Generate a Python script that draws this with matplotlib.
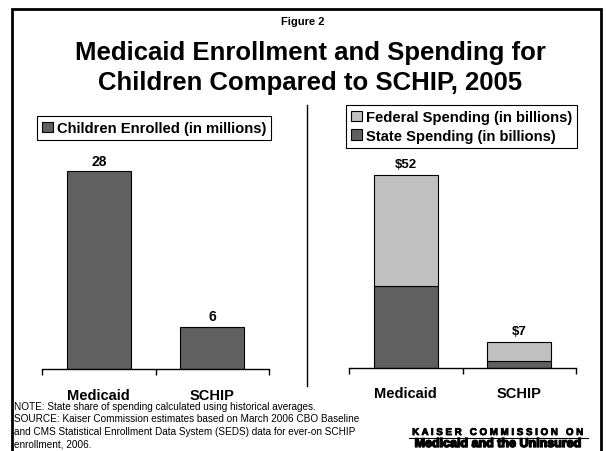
import matplotlib
matplotlib.use('Agg')
import matplotlib.pyplot as plt
from matplotlib.patches import Rectangle, Patch
from matplotlib.lines import Line2D
import matplotlib.patheffects as pe

plt.rcParams['font.family'] = ['Liberation Sans', 'DejaVu Sans']

# enrollment (millions) and spending (billions) for 2005
programs = ['Medicaid', 'SCHIP']
children_enrolled = [28, 6]
enrolled_labels = ['28', '6']
federal_spending = [30, 5]
state_spending = [22, 2]
spending_labels = ['$52', '$7']

DARK = '#606060'
LIGHT = '#c0c0c0'

W, H = 606, 452
fig = plt.figure(figsize=(W / 100, H / 100), dpi=100)


def px_axes(x0, x1, y_base, height):
    # axes placed by pixel position (y measured from top)
    return fig.add_axes([x0 / W, (H - y_base) / H, (x1 - x0) / W, height / H])


def style_axis(ax, pad):
    for s in ['top', 'right', 'left']:
        ax.spines[s].set_visible(False)
    ax.spines['bottom'].set_linewidth(1.0)
    ax.set_xlim(0, len(programs))
    ax.set_yticks([])
    ax.set_xticks(range(len(programs) + 1))
    ax.set_xticklabels([])
    ax.tick_params(axis='x', which='major', direction='out', length=4, width=1)
    ax.set_xticks([i + 0.5 for i in range(len(programs))], minor=True)
    ax.set_xticklabels(programs, minor=True, fontsize=10.5, fontweight='bold')
    ax.tick_params(axis='x', which='minor', length=0, pad=pad)


pos = [i + 0.5 for i in range(len(programs))]
leg_kw = dict(loc='upper left', bbox_transform=fig.transFigure, fancybox=False,
              edgecolor='black', framealpha=1, borderpad=0.35, borderaxespad=0,
              handlelength=0.75, handleheight=0.75, handletextpad=0.25,
              labelspacing=0.3, prop={'size': 10.6, 'weight': 'bold'})

# left panel: children enrolled
ax1 = px_axes(42, 269, 370, 30 * 7.07)
ax1.set_ylim(0, 30)
ax1.bar(pos, children_enrolled, width=0.56, color=DARK,
        edgecolor='black', linewidth=0.8)
for x, v, lab in zip(pos, children_enrolled, enrolled_labels):
    ax1.annotate(lab, (x, v), xytext=(0, 7.5), textcoords='offset points',
                 ha='center', va='center', fontsize=10, fontweight='bold')
style_axis(ax1, 14)
ax1.legend([Patch(facecolor=DARK, edgecolor='black', linewidth=0.8)],
           ['Children Enrolled (in millions)'],
           bbox_to_anchor=(37 / W, 1 - 117 / H), **leg_kw
           ).get_frame().set_linewidth(0.8)

# right panel: state and federal spending
ax2 = px_axes(349, 576, 369, 56 * 3.71)
ax2.set_ylim(0, 56)
ax2.bar(pos, state_spending, width=0.56, color=DARK,
        edgecolor='black', linewidth=0.8)
ax2.bar(pos, federal_spending, bottom=state_spending, width=0.56,
        color=LIGHT, edgecolor='black', linewidth=0.8)
for x, s, f, lab in zip(pos, state_spending, federal_spending, spending_labels):
    ax2.annotate(lab, (x, s + f), xytext=(0, 8), textcoords='offset points',
                 ha='center', va='center', fontsize=9.5, fontweight='bold')
style_axis(ax2, 13)
ax2.legend([Patch(facecolor=LIGHT, edgecolor='black', linewidth=0.8),
            Patch(facecolor=DARK, edgecolor='black', linewidth=0.8)],
           ['Federal Spending (in billions)', 'State Spending (in billions)'],
           bbox_to_anchor=(346 / W, 1 - 106 / H), **leg_kw
           ).get_frame().set_linewidth(0.8)

# frame and divider
fig.add_artist(Rectangle((12 / W, -0.1), (601 - 12) / W, 1.1 - 10 / H,
                         transform=fig.transFigure, fill=False,
                         edgecolor='black', linewidth=2))
fig.add_artist(Line2D([307 / W, 307 / W], [1 - 106 / H, 1 - 387 / H],
                      transform=fig.transFigure, color='black', linewidth=1))

# titles
fig.text(303 / W, 1 - 22 / H, 'Figure 2', ha='center', va='center',
         fontsize=8, fontweight='bold')
fig.text(310 / W, 1 - 68 / H,
         'Medicaid Enrollment and Spending for\nChildren Compared to SCHIP, 2005',
         ha='center', va='center', fontsize=18.5, fontweight='bold',
         linespacing=1.27)

# notes
fig.text(14 / W, 1 - 402 / H,
         'NOTE: State share of spending calculated using historical averages.\n'
         'SOURCE: Kaiser Commission estimates based on March 2006 CBO Baseline\n'
         'and CMS Statistical Enrollment Data System (SEDS) data for ever-on SCHIP\n'
         'enrollment, 2006.',
         ha='left', va='top', fontsize=7.2, linespacing=1.3)

# logo
fig.text(498 / W, 1 - 433 / H, 'K A I S E R   C O M M I S S I O N   O N',
         ha='center', va='center', fontsize=7, fontweight='bold',
         path_effects=[pe.withStroke(linewidth=0.6, foreground='black')])
fig.add_artist(Line2D([409 / W, 588 / W], [1 - 438.5 / H, 1 - 438.5 / H],
                      transform=fig.transFigure, color='black', linewidth=0.8))
fig.text(498 / W, 1 - 445 / H, 'Medicaid and the Uninsured',
         ha='center', va='center', fontsize=9, fontweight='bold',
         path_effects=[pe.withStroke(linewidth=1.0, foreground='black')])

fig.savefig('out.png', dpi=100)
